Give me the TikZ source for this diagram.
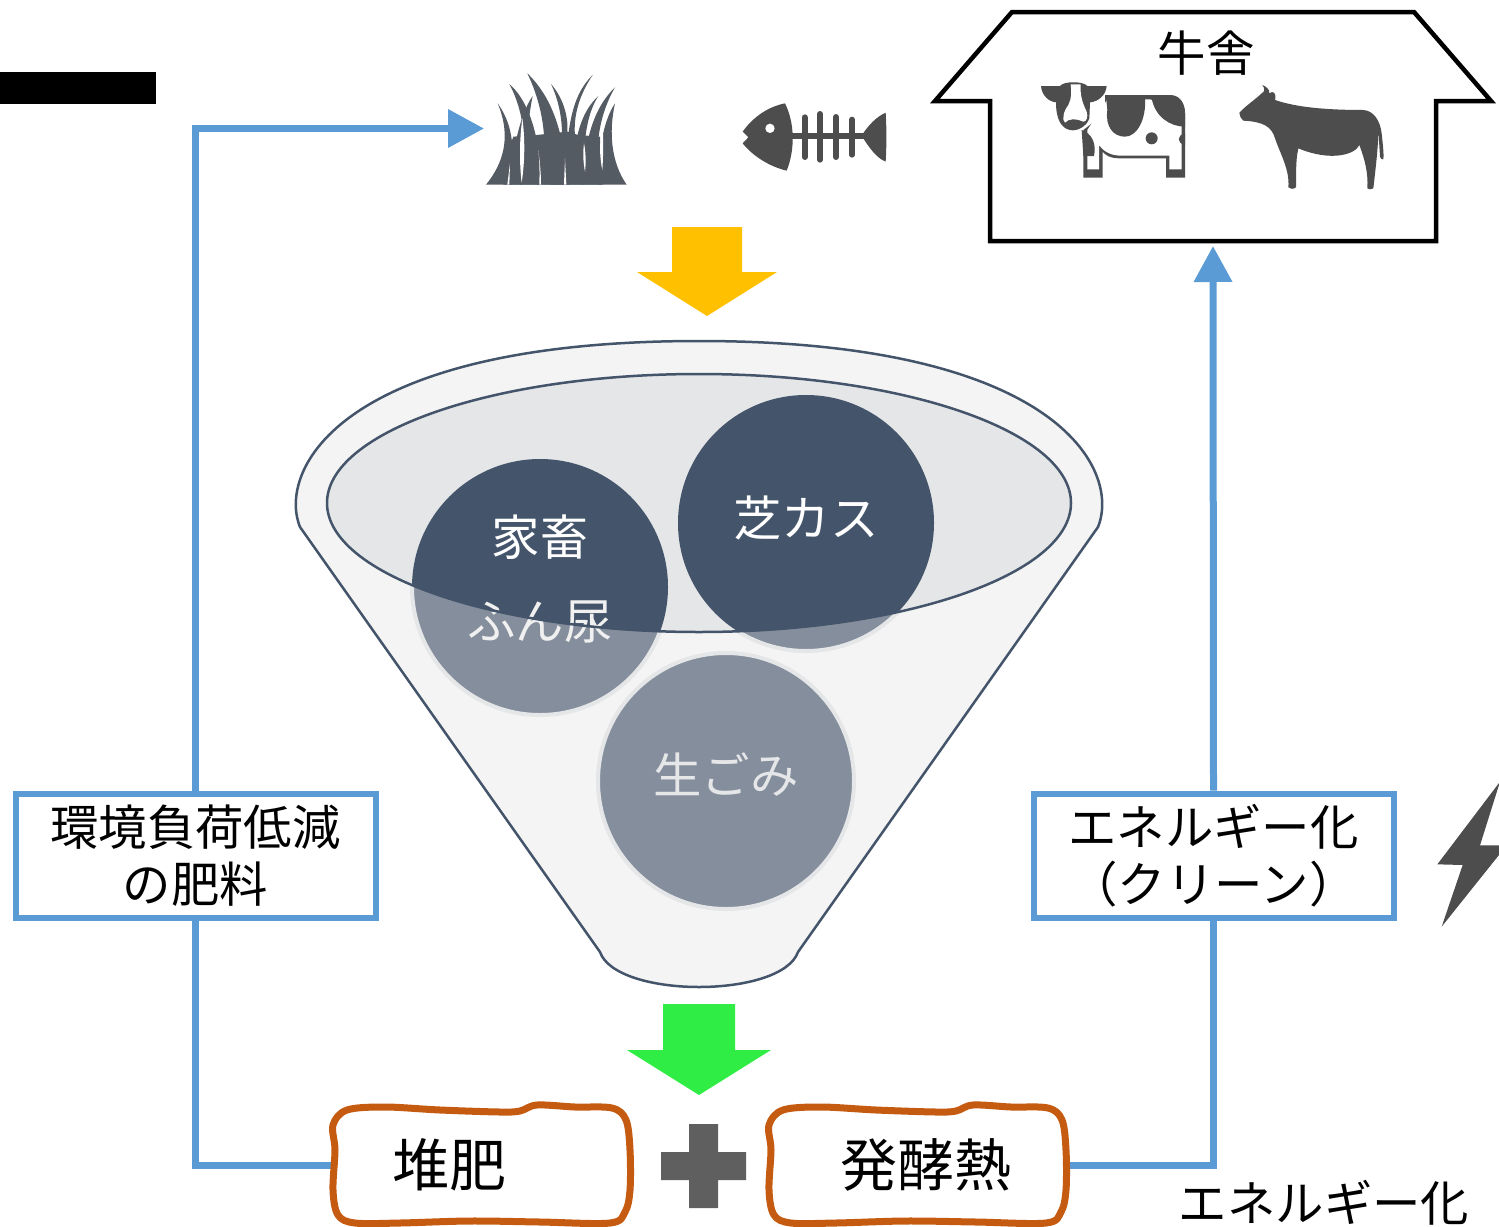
\documentclass[tikz,border=0pt]{standalone}
\usepackage{fontspec}
\setmainfont{Noto Sans CJK JP}
\usetikzlibrary{arrows.meta}
\usetikzlibrary{positioning}
\definecolor{flowblue}{HTML}{5B9BD5}
\definecolor{slateline}{HTML}{44546A}
\definecolor{slatelight}{HTML}{858E9C}
\definecolor{bowlfill}{HTML}{F4F4F4}
\definecolor{rimfill}{HTML}{E5E6E8}
\definecolor{rustline}{HTML}{C55A11}
\definecolor{iconfill}{HTML}{4D4D4D}
\definecolor{grassfill}{HTML}{545B63}
\definecolor{funnelyellow}{HTML}{FFC000}
\definecolor{funnelgreen}{HTML}{2FED45}
\tikzset{
  jp/.style={font=\fontsize{48.4}{57}\selectfont, align=center, inner sep=0},
  jpbig/.style={font=\fontsize{57}{60}\selectfont, inner sep=0},
  flow/.style={flowblue, line width=7},
  flowtip/.style={flow, -{Triangle[length=36pt,width=37pt]}},
  labelbox/.style={draw=flowblue, line width=6, fill=white, minimum width=360, minimum height=124, inner sep=0},
}
\begin{document}
\begin{tikzpicture}[x=1pt,y=-1pt]
\useasboundingbox (0,0) rectangle (1499,1226);
\fill[black] (0,72) rectangle (156,104);
% named anchors for the flow lines
\coordinate (grasstip) at (484,128.5);
\coordinate (housedoor) at (1213,246);
\node[minimum width=299, minimum height=118, inner sep=0] (compost) at (481,1165) {};
\node[minimum width=299, minimum height=118, inner sep=0] (heat) at (917,1165) {};
\node[labelbox, jp] (envbox) at (195.5,855.5) {環境負荷低減\\の肥料};
\node[labelbox, jp] (energybox) at (1213.5,855.5) {エネルギー化\\（クリーン）};
\draw[flow] (compost.west) -| (envbox.south);
\draw[flowtip] (envbox.north) |- (grasstip);
\draw[flow] (heat.east) -| (energybox.south);
\draw[flowtip] (energybox.north) -- (housedoor);
% house
\draw[black, line width=4.5, fill=white] (990,241) -- (990,101) -- (935,101) -- (1012,12) -- (1414,12) -- (1491,101) -- (1436,101) -- (1436,241) -- cycle;
\node[jp] (barn) at (1206,53) {牛舎};
% arrows
\fill[funnelyellow] (672,227) -- (742,227) -- (742,272) -- (777,272) -- (707,316) -- (637,272) -- (672,272) -- cycle;
\fill[funnelgreen] (663,1004) -- (735,1004) -- (735,1050) -- (771,1050) -- (699,1095) -- (627,1050) -- (663,1050) -- cycle;
% funnel
\draw[slateline, line width=2.5, fill=bowlfill] (300,527) .. controls (277,470) and (340,341) .. (699,341) .. controls (1058,341) and (1121,470) .. (1098,527) -- (798,952) .. controls (790,975) and (745,987) .. (699,987) .. controls (653,987) and (608,975) .. (600,952) -- cycle;
\foreach \cx/\cy in {540/587, 806/523, 726/781} {
 \fill[slatelight, draw=rimfill, line width=4] (\cx,\cy) circle (128);
}
\fill[rimfill] (699,503) ellipse (372 and 129);
\begin{scope}
\clip (699,503) ellipse (372 and 129);
\foreach \cx/\cy in {540/587, 806/523} {
 \fill[slateline] (\cx,\cy) circle (128);
}
\end{scope}
\node[jp, text=white] (livestock) at (540,537) {家畜};
\node[jp, text=white!94!black] (manure) at (540,622) {ふん尿};
\node[jp, text=white] (turf) at (806,518) {芝カス};
\node[jp, text=rimfill] (foodwaste) at (726,775) {生ごみ};
\draw[slateline, line width=2.5] (699,503) ellipse (372 and 129);
% wobbly boxes
\foreach \dx in {0, 436} {
 \draw[rustline, line width=7, xshift=\dx] plot[smooth cycle, tension=.55] coordinates {(333,1125) (347,1110) (385,1107) (440,1110) (500,1112) (520,1111) (537,1105) (575,1107) (612,1108) (626,1120) (630,1150) (630,1190) (625,1212) (610,1223) (540,1222) (470,1221) (400,1223) (355,1223) (338,1215) (333,1190) (335,1150)};
}
\node[jpbig] (compostname) at (449,1165) {堆肥};
\node[jpbig] (heatname) at (926,1165) {発酵熱};
\node[jp] (energyname) at (1324,1203) {エネルギー化};
% plus
\fill[iconfill!90!white] (689,1124) rectangle (718,1208) (661,1152) rectangle (746,1180);
% grass
\begin{scope}[shift={(470,60)}, scale=1/3]
\foreach \p in {
 {(48,374) .. controls (100,310) and (125,230) .. (83,130) .. controls (125,190) and (135,250) .. (125,374) -- cycle},
 {(115,374) .. controls (130,280) and (145,170) .. (188,108) .. controls (175,170) and (165,280) .. (155,374) -- cycle},
 {(150,374) .. controls (170,280) and (170,170) .. (118,72) .. controls (185,130) and (215,260) .. (210,374) -- cycle},
 {(200,374) .. controls (240,280) and (225,150) .. (172,40) .. controls (245,110) and (285,220) .. (290,374) -- cycle},
 {(240,374) .. controls (285,300) and (290,170) .. (243,72) .. controls (285,120) and (295,180) .. (292,215) -- (300,374) -- cycle},
 {(285,374) .. controls (290,220) and (300,110) .. (368,45) .. controls (325,110) and (310,170) .. (315,230) -- (340,374) -- cycle},
 {(310,300) .. controls (320,210) and (340,150) .. (385,108) .. controls (345,170) and (340,260) .. (340,374) -- cycle},
 {(335,374) .. controls (345,250) and (365,150) .. (435,82) .. controls (395,150) and (365,260) .. (395,374) -- cycle},
 {(385,374) .. controls (385,290) and (395,190) .. (435,130) .. controls (415,220) and (425,310) .. (470,374) -- cycle}} {
 \fill[grassfill] \p;
}
% solid lower mass, then the white slits in it
\fill[grassfill] (100,374) -- (108,290) -- (130,230) -- (200,225) -- (292,215) -- (325,225) -- (390,230) -- (400,374) -- cycle;
\fill[white] (157,175) .. controls (148,240) and (148,310) .. (155,368) .. controls (164,310) and (166,240) .. (157,175) -- cycle;
\fill[white] (342,250) .. controls (338,280) and (340,310) .. (345,335) .. controls (348,310) and (348,280) .. (342,250) -- cycle;
\fill[white] (398,190) .. controls (388,240) and (388,290) .. (397,330) .. controls (400,290) and (400,240) .. (398,190) -- cycle;
\fill[white] (205,270) .. controls (209,310) and (209,340) .. (208,374) -- (213,374) .. controls (213,340) and (210,310) .. (205,270) -- cycle;
\fill[white] (285,295) -- (282,374) -- (289,374) -- cycle;
\fill[white] (120,310) -- (112,374) -- (118,374) -- cycle;
\end{scope}
% fish
\begin{scope}[shift={(470,60)}, scale=1/3]
\fill[iconfill] (818,215) .. controls (850,170) and (895,140) .. (945,130) .. controls (975,190) and (975,270) .. (950,332) .. controls (900,320) and (850,290) .. (818,250) -- (835,232) -- cycle;
\fill[white] (900,205) circle (14);
\fill[iconfill] (965,218) rectangle (1190,236);
\foreach \rx/\ra/\rb in {1004/163/300, 1050/153/308, 1098/162/300, 1146/170/293} {
 \draw[iconfill, line width=6, line cap=round] (\rx,\ra+9) -- (\rx,\rb-9);
}
\fill[iconfill] (1175,227) .. controls (1195,195) and (1220,170) .. (1247,158) .. controls (1250,210) and (1250,250) .. (1247,305) .. controls (1220,295) and (1195,260) .. (1175,227) -- cycle;
\end{scope}
% cows
\begin{scope}[shift={(1030,70)}, scale=1/3]
% spotted cow body
\fill[iconfill] (225,75) -- (420,75) .. controls (450,75) and (465,100) .. (465,130) -- (465,323) -- (408,323) -- (408,265) -- (270,265) .. controls (240,265) and (225,255) .. (218,245) -- (218,323) -- (160,323) -- (160,180) -- (225,130) -- cycle;
\fill[white] (172,298) -- (207,298) -- (207,225) .. controls (225,250) and (250,257) .. (275,257) -- (418,257) -- (418,298) -- (455,298) -- (455,170) -- (455,120) -- (360,88) -- (232,88) -- (172,180) -- cycle;
\fill[iconfill] (228,80) -- (345,80) .. controls (350,150) and (320,200) .. (285,200) .. controls (250,200) and (225,170) .. (232,120) -- cycle;
\fill[iconfill] (365,85) -- (425,80) .. controls (450,85) and (465,105) .. (465,130) -- (465,170) .. controls (420,170) and (375,140) .. (365,85) -- cycle;
\fill[iconfill] (155,180) .. controls (185,190) and (200,220) .. (192,258) -- (160,258) -- cycle;
\fill[iconfill] (365,205) circle (18);
\fill[iconfill] (465,190) .. controls (440,195) and (440,220) .. (465,225) -- cycle;
% spotted cow head
\fill[iconfill] (33,48) -- (90,48) .. controls (100,33) and (160,33) .. (172,48) -- (230,48) .. controls (228,75) and (205,95) .. (180,97) -- (178,145) .. controls (170,170) and (140,185) .. (120,180) .. controls (95,175) and (78,150) .. (78,97) .. controls (55,95) and (35,75) .. (33,48) -- cycle;
\fill[white] (122,43) -- (152,43) .. controls (150,70) and (155,95) .. (170,125) .. controls (175,140) and (170,155) .. (160,155) .. controls (140,145) and (115,145) .. (105,158) .. controls (95,150) and (100,125) .. (115,105) .. controls (125,85) and (125,65) .. (122,43) -- cycle;
% plain cow
\fill[iconfill] (628,128) .. controls (650,105) and (680,85) .. (695,70) .. controls (705,65) and (705,55) .. (697,45) .. controls (710,50) and (720,60) .. (718,70) .. controls (730,60) and (740,70) .. (735,90) .. controls (780,105) and (850,120) .. (1000,120) .. controls (1030,122) and (1050,150) .. (1055,190) .. controls (1058,220) and (1062,250) .. (1060,268) .. controls (1055,270) and (1052,265) .. (1050,260) -- (1045,180) .. controls (1045,220) and (1040,270) .. (1030,355) .. controls (1025,360) and (1015,358) .. (1012,355) .. controls (1015,310) and (1005,270) .. (988,225) .. controls (975,255) and (900,275) .. (805,235) .. controls (795,280) and (800,320) .. (798,352) .. controls (790,358) and (780,358) .. (775,352) .. controls (780,300) and (750,250) .. (735,205) .. controls (725,170) and (700,155) .. (640,152) .. controls (632,145) and (628,135) .. (628,128) -- cycle;
\end{scope}
% lightning
\begin{scope}[shift={(1420,770)}, scale=1/3]
\fill[iconfill] (240,35) -- (180,226) -- (260,226) -- (65,470) -- (128,285) -- (52,283) -- cycle;
\end{scope}
\end{tikzpicture}
\end{document}
